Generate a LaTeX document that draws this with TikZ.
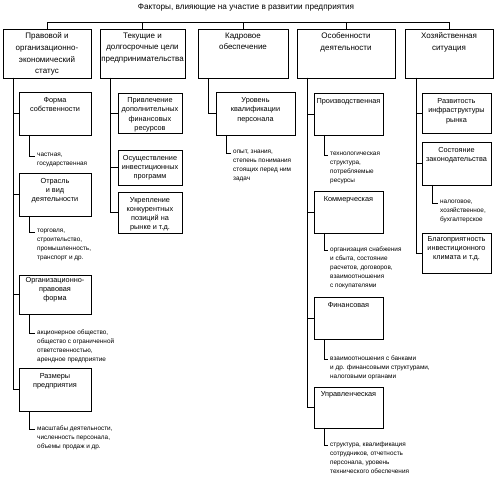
\documentclass[tikz,border=0pt]{standalone}
\usepackage{fontspec}
\setmainfont{Liberation Sans}
\usetikzlibrary{positioning}
\begin{document}
\begin{tikzpicture}[x=1pt, y=-1pt, >=stealth]
  % Define styles
  \tikzstyle{line}=[draw=black, line width=0.7pt]
  \tikzstyle{topbox}=[rectangle, draw=black, line width=0.7pt, inner sep=0pt, outer sep=0pt, minimum height=49pt]
  \tikzstyle{subbox}=[rectangle, draw=black, line width=0.7pt, inner sep=0pt, outer sep=0pt]
  \tikzstyle{toptext}=[inner sep=0pt, align=center, font=\fontsize{8}{11.7}\selectfont]
  \tikzstyle{subtext}=[inner sep=0pt, align=center, font=\fontsize{7.3}{9.2}\selectfont]
  \tikzstyle{note}=[inner sep=0pt, anchor=north west, align=left, font=\fontsize{6.4}{9}\selectfont]

  \useasboundingbox (0,0) rectangle (495,478);

  % Title
  \node[font=\fontsize{8.2}{10}\selectfont] (title) at (246,8) {Факторы, влияющие на участие в развитии предприятия};

  % Top-level factors
  \node[topbox, minimum width=88pt] (legal) at (47,53.5) {};
  \node[topbox, minimum width=85pt] (goals) at (142.5,53.5) {};
  \node[topbox, minimum width=90pt] (staff) at (243,53.5) {};
  \node[topbox, minimum width=98pt] (activity) at (346,53.5) {};
  \node[topbox, minimum width=88pt] (economy) at (449,53.5) {};
  \node[toptext, below=3.5pt of legal.north] (legal-t) {Правовой и\\организационно-\\экономический\\статус};
  \node[toptext, below=3.5pt of goals.north] (goals-t) {Текущие и\\долгосрочные цели\\предпринимательства};
  \node[toptext, below=3.5pt of staff.north] (staff-t) {Кадровое\\обеспечение};
  \node[toptext, below=3.5pt of activity.north] (activity-t) {Особенности\\деятельности};
  \node[toptext, below=3.5pt of economy.north] (economy-t) {Хозяйственная\\ситуация};

  % Bus to the top-level factors
  \draw[line] ([yshift=7pt]legal.north) -- ([yshift=7pt]economy.north);
  \foreach \x in {legal,goals,staff,activity,economy}
    \draw[line] (\x.north) -- ++(0,-7);

  % Column 1: legal status
  \node[subbox, minimum width=72pt, minimum height=43pt] (form) at (55,113.5) {};
  \node[subbox, minimum width=72pt, minimum height=43pt] (branch) at (55,194.5) {};
  \node[subbox, minimum width=72pt, minimum height=39pt] (orgform) at (55,294.5) {};
  \node[subbox, minimum width=72pt, minimum height=43pt] (size) at (55,389.5) {};
  \node[subtext, below=5.5pt of form.north] (form-t) {Форма\\собственности};
  \node[subtext, below=5pt of branch.north] (branch-t) {Отрасль\\и вид\\деятельности};
  \node[subtext, below=2pt of orgform.north] (orgform-t) {Организационно-\\правовая\\форма};
  \node[subtext, below=5pt of size.north] (size-t) {Размеры\\предприятия};
  \coordinate (legal-trunk) at ([xshift=10pt]legal.south west);
  \foreach \x in {form,branch,orgform,size}
    \draw[line] (legal-trunk) |- (\x.west);

  % Column 2: goals
  \node[subbox, minimum width=64pt, minimum height=40pt] (finance) at (150,113) {};
  \node[subbox, minimum width=64pt, minimum height=35pt] (invest) at (150,167.5) {};
  \node[subbox, minimum width=64pt, minimum height=41pt] (compete) at (150,212.5) {};
  \node[subtext, below=4.5pt of finance.north] (finance-t) {Привлечение\\дополнительных\\финансовых\\ресурсов};
  \node[subtext, below=5pt of invest.north] (invest-t) {Осуществление\\инвестиционных\\программ};
  \node[subtext, below=5pt of compete.north] (compete-t) {Укрепление\\конкурентных\\позиций на\\рынке и т.д.};
  \coordinate (goals-trunk) at ([xshift=10pt]goals.south west);
  \foreach \x in {finance,invest,compete}
    \draw[line] (goals-trunk) |- (\x.west);

  % Column 3: staff
  \node[subbox, minimum width=79pt, minimum height=43pt] (skill) at (255.5,113.5) {};
  \node[subtext, below=5.5pt of skill.north] (skill-t) {Уровень\\квалификации\\персонала};
  \coordinate (staff-trunk) at ([xshift=10pt]staff.south west);
  \draw[line] (staff-trunk) |- (skill.west);

  % Column 4: activity
  \node[subbox, minimum width=69pt, minimum height=42pt] (prod) at (348.5,114) {};
  \node[subbox, minimum width=69pt, minimum height=42pt] (comm) at (348.5,212) {};
  \node[subbox, minimum width=69pt, minimum height=42pt] (fin) at (348.5,318) {};
  \node[subbox, minimum width=69pt, minimum height=41pt] (mgmt) at (348.5,407.5) {};
  \node[subtext, below=5.5pt of prod.north] (prod-t) {Производственная};
  \node[subtext, below=5pt of comm.north] (comm-t) {Коммерческая};
  \node[subtext, below=5pt of fin.north] (fin-t) {Финансовая};
  \node[subtext, below=4pt of mgmt.north] (mgmt-t) {Управленческая};
  \coordinate (activity-trunk) at ([xshift=10pt]activity.south west);
  \foreach \x in {prod,comm,fin,mgmt}
    \draw[line] (activity-trunk) |- (\x.west);

  % Column 5: economic situation
  \node[subbox, minimum width=69pt, minimum height=40pt] (infra) at (456.5,113) {};
  \node[subbox, minimum width=69pt, minimum height=43pt] (law) at (456.5,163.5) {};
  \node[subbox, minimum width=69pt, minimum height=40pt] (climate) at (456.5,253) {};
  \node[subtext, below=5.5pt of infra.north] (infra-t) {Развитость\\инфраструктуры\\рынка};
  \node[subtext, below=5pt of law.north] (law-t) {Состояние\\законодательства};
  \node[subtext, below=3pt of climate.north] (climate-t) {Благоприятность\\инвестиционного\\климата и т.д.};
  \coordinate (economy-trunk) at ([xshift=11pt]economy.south west);
  \foreach \x in {infra,law,climate}
    \draw[line] (economy-trunk) |- (\x.west);

  % Notes
  \coordinate (form-hook) at (35,156);
  \coordinate (branch-hook) at (35,232);
  \coordinate (orgform-hook) at (35,333);
  \coordinate (size-hook) at (35,429);
  \coordinate (skill-hook) at (231,153);
  \coordinate (prod-hook) at (328,155);
  \coordinate (comm-hook) at (328,250);
  \coordinate (fin-hook) at (328,359);
  \coordinate (mgmt-hook) at (328,445);
  \coordinate (law-hook) at (438,203);
  \foreach \x in {form,branch,orgform,size,skill,prod,comm,fin,mgmt,law}
    \draw[line] ([xshift=10pt]\x.south west) |- (\x-hook);
  \node[note] (form-note) at ([shift={(2pt,3pt)}]form-hook) {частная,\\государственная};
  \node[note] (branch-note) at ([shift={(2pt,3pt)}]branch-hook) {торговля,\\строительство,\\промышленность,\\транспорт и др.};
  \node[note] (orgform-note) at ([shift={(2pt,3pt)}]orgform-hook) {акционерное общество,\\общество с ограниченной\\ответственностью,\\арендное предприятие};
  \node[note] (size-note) at ([shift={(2pt,3pt)}]size-hook) {масштабы деятельности,\\численность персонала,\\объемы продаж и др.};
  \node[note] (skill-note) at ([shift={(2pt,3pt)}]skill-hook) {опыт, знания,\\степень понимания\\стоящих перед ним\\задач};
  \node[note] (prod-note) at ([shift={(2pt,3pt)}]prod-hook) {технологическая\\структура,\\потребляемые\\ресурсы};
  \node[note] (comm-note) at ([shift={(2pt,3pt)}]comm-hook) {организация снабжения\\и сбыта, состояние\\расчетов, договоров,\\взаимоотношения\\с покупателями};
  \node[note] (fin-note) at ([shift={(2pt,3pt)}]fin-hook) {взаимоотношения с банками\\и др. финансовыми структурами,\\налоговыми органами};
  \node[note] (mgmt-note) at ([shift={(2pt,3pt)}]mgmt-hook) {структура, квалификация\\сотрудников, отчетность\\персонала, уровень\\технического обеспечения};
  \node[note] (law-note) at ([shift={(2pt,3pt)}]law-hook) {налоговое,\\хозяйственное,\\бухгалтерское};
\end{tikzpicture}
\end{document}
